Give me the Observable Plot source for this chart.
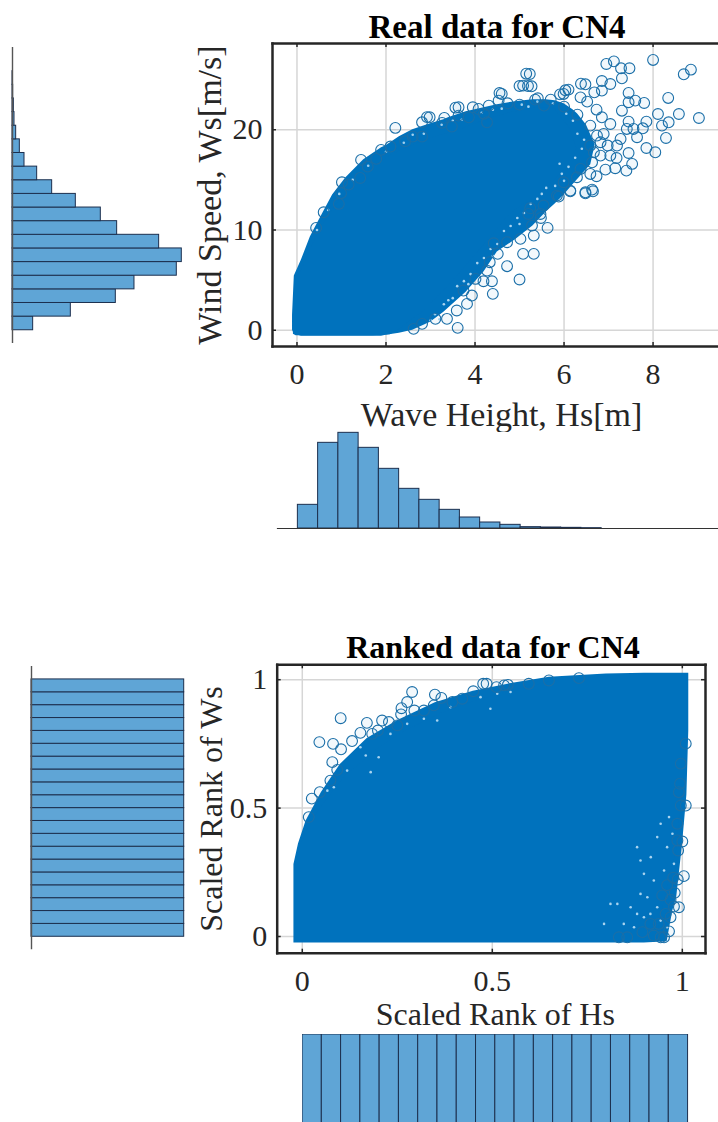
<!DOCTYPE html>
<html>
<head>
<meta charset="utf-8">
<script src="https://cdn.jsdelivr.net/npm/d3@7"></script>
<script src="https://cdn.jsdelivr.net/npm/@observablehq/plot@0.6"></script>
<style>
html,body{margin:0;padding:0;background:#fff;}
#page{position:relative;width:718px;height:1122px;overflow:hidden;background:#fff;font-family:"Liberation Serif",serif;}
#page>*{position:absolute;}
.title{font-weight:bold;color:#000;white-space:nowrap;line-height:1;text-align:center;}
</style>
</head>
<body>
<div id="page"></div>
<script>
// ---------- Real data panel ----------
const realTitle = "Real data for CN4";
const hsLabel = "Wave Height, Hs[m]";
const wsLabel = "Wind Speed, Ws[m/s]";
const realXTicks = [0, 2, 4, 6, 8];
const realYTicks = [0, 10, 20];
// dense body of the cloud, read as an envelope
const realBodyHs = [-0.08,-0.02,0.1,0.22,0.4,0.6,0.95,1.35,1.7,2.1,2.32,2.5,2.85,3.2,3.59,3.95,4.34,4.7,5.02,5.4,5.77,6.14,6.29];
const realBodyWsHigh = [2,5.2,5.9,7.1,9,10.6,13,14.76,16.2,17.42,17.9,18.2,18.9,19.4,19.9,20.5,21.1,21.6,21.9,22.2,22.2,20.1,18.1];
const realBodyWsLow = [-0.4,-0.55,-0.55,-0.55,-0.55,-0.55,-0.55,-0.55,-0.55,-0.45,0.14,0.8,1.9,3.5,5.3,7.2,9.2,11.2,12.4,13.2,14.9,16.5,18.1];
// looser fringe of the cloud, where circles overlap with small gaps
const realFringeHs = [-0.1,-0.06,0.1,0.3,0.5,0.8,1.1,1.5,1.9,2.0,2.3,2.6,2.8,3.0,3.3,3.4,3.8,4.2,4.5,4.9,5.3,5.6,5.8,6.0,6.2,6.3,6.5,6.6,6.7];
const realFringeWsHigh = [1.5,5.4,7,9.3,11,13.5,15.2,17,18.2,18.4,19.3,20,20.3,20.6,21,21.2,21.8,22.2,22.5,22.8,23,23,22.9,22.6,22,21.6,20.5,19.5,18.5];
const realFringeWsLow = [0,-0.4,-0.6,-0.6,-0.6,-0.6,-0.6,-0.6,-0.6,-0.5,-0.3,0,0.4,0.8,1.8,2.2,3.8,5.8,7.8,9,10.4,11.8,12.6,13.5,14.5,15,16,16.5,18.5];
// gaps between circles, seen as light specks inside the fringe
const realSpecks = [[3.1,1.6],[3.3,2.6],[3.5,3.2],[3.2,1.1],[3.6,4.4],[3.75,4.9],[3.9,5.6],[4.05,6.7],[4.2,7.2],[4.35,8.1],[4.5,8.6],[4.65,9.9],[4.8,10.4],[4.95,11.2],[5.1,11.7],[5.25,12.6],[5.4,13.1],[5.6,14.2],[5.8,14.4],[5.95,15.6],[6.1,16.3],[6.25,17.2],[6.4,18.1],[6.3,19.6],[6.2,20.9],[6.05,21.6],[5.75,22.6],[5.4,22.8],[5.05,22.5],[4.6,22.1],[4.15,21.7],[3.7,21.0],[3.25,20.5],[2.85,19.6],[2.4,18.7],[2.0,17.8],[1.6,16.4],[1.25,15.0],[0.95,13.6],[0.7,12.0],[0.45,10.0],[3.4,3.0],[3.0,1.0],[3.85,4.6],[4.4,7.4],[5.0,10.6],[5.5,13.6],[6.0,14.9],[5.9,16.6],[6.45,19.0],[2.6,19.5],[3.5,20.9],[4.4,22.0],[5.2,22.3]];
// individually visible circles
const realDots = [
[6.95,26.56],[7.12,26.82],[7.28,26.13],[7.47,26.13],[8.00,26.96],[8.85,25.99],[8.69,25.53],[7.30,25.13],[5.23,25.56],[5.08,24.40],[5.27,24.33],[6.48,24.53],[6.85,24.86],[7.04,24.56],[6.68,23.73],[6.85,23.90],[6.10,24.00],[5.99,23.57],[5.41,23.14],[6.37,23.23],[6.52,22.80],[7.45,23.67],[7.45,22.74],[7.80,22.67],[7.30,21.90],[8.34,23.17],[6.73,22.00],[8.11,21.57],[8.58,21.57],[9.03,21.17],[8.35,20.74],[8.20,20.41],[7.85,20.81],[7.77,20.14],[8.29,19.18],[7.45,20.81],[7.64,19.25],[7.85,18.18],[8.05,17.75],[7.53,16.59],[7.40,15.92],[7.15,16.16],[6.93,16.02],[7.18,17.18],[6.82,17.42],[6.63,16.75],[6.73,15.36],[6.59,15.59],[6.14,13.93],[6.63,14.03],[6.48,13.76],[6.89,19.58],[7.19,18.42],[7.45,17.68],[6.59,18.42],[6.85,21.24],[7.04,20.57],
[6.82,18.75],[6.98,18.42],[7.27,19.08],[7.41,20.08],[7.56,20.08],[7.60,22.9],[6.59,20.41],[6.74,19.41],[7.04,17.42],[6.67,17.75],[6.37,16.09],[6.29,15.26],[5.99,14.76],[5.84,13.43],[5.54,12.44],[5.24,12.17],[5.47,11.6],[5.20,11.6],
[3.61,0.24],[4.40,3.63],[5.00,5.06],[4.72,6.39],[5.08,7.62],[5.32,7.62],[4.51,7.62],[5.63,10.21],[5.48,11.2],[5.28,10.44],[5.02,9.11],[4.72,8.78],[4.42,8.68],[5.32,9.44],[4.38,4.89],[4.19,4.89],[4.01,5.12],[4.33,6.79],[4.27,5.95],[3.93,3.46],[3.82,2.63],[3.59,1.97],[3.37,1.14],[3.11,1.14],[2.81,0.64],[2.62,0.14],[3.74,3.96],[5.88,13.33],[6.14,13.86],[6.48,13.66],[6.65,13.86],
[2.21,20.18],[2.98,21.24],[3.31,21.18],[3.63,22.24],[3.63,21.41],[3.95,22.24],[4.31,22.40],[4.60,23.57],[4.53,22.90],[4.73,22.64],[2.81,20.74],[3.26,20.68],[3.48,20.31],[2.43,18.85],[2.60,19.31],[2.81,19.31],[2.10,18.32],[1.89,17.99],[1.44,16.99],[1.78,17.09],[1.59,16.32],[1.01,14.76],[1.16,14.53],[1.42,15.19],[0.99,13.67],[0.60,11.77],[0.43,10.21],[0.94,12.6],[4.08,22.07],[4.27,20.74],[3.86,21.24],
[5.15,25.59],[5.00,24.36],[5.19,24.36],[4.55,23.66],[5.91,23.53],[6.03,23.93],[6.38,24.59],[3.56,22.2],[2.92,21.26],[5.35,23.0],[5.7,23.0],[5.0,22.5],[4.2,21.6],[5.55,22.4],[6.0,22.3],[6.3,21.5]
];
// marginal histogram of Ws
const wsEdges = [0,1.36,2.72,4.08,5.44,6.8,8.16,9.52,10.88,12.24,13.6,14.96,16.32,17.68,19.04,20.4,21.76,23.12,24.48,25.84];
const wsCounts = [620,1750,3100,3660,4930,5080,4400,3140,2650,1900,1190,740,360,220,110,60,40,20,10];
// marginal histogram of Hs
const hsEdges = [0.02,0.475,0.93,1.385,1.84,2.295,2.75,3.205,3.66,4.115,4.57,5.025,5.48,5.935,6.39,6.845];
const hsCounts = [710,2570,2870,2420,1790,1190,860,560,330,180,110,40,30,20,10];

// ---------- Ranked data panel ----------
const rankTitle = "Ranked data for CN4";
const rankHsLabel = "Scaled Rank of Hs";
const rankWsLabel = "Scaled Rank of Ws";
const rankTicks = [0, 0.5, 1];
const rankBodyHs = [-0.017,-0.005,0.009,0.03,0.057,0.11,0.19,0.267,0.364,0.46,0.574,0.67,0.846,0.93,0.947,0.969,0.987,0.991,1.004,1.013];
const rankBodyWsHigh = [0.30,0.35,0.40,0.46,0.517,0.62,0.72,0.796,0.867,0.919,0.965,0.997,1.017,1.02,1.02,1.02,1.02,1.02,1.02,1.02];
const rankBodyWsLow = [-0.02,-0.022,-0.022,-0.022,-0.022,-0.022,-0.022,-0.022,-0.022,-0.022,-0.022,-0.022,-0.022,-0.02,0.1,0.244,0.348,0.44,0.6,0.8];
const rankFringeHs = [-0.022,-0.01,0.01,0.05,0.1,0.17,0.25,0.35,0.45,0.55,0.65,0.8,0.9,0.96,0.975,0.985,1.0,1.012,1.017];
const rankFringeWsHigh = [0.28,0.36,0.45,0.56,0.67,0.77,0.84,0.91,0.955,0.985,1.01,1.022,1.025,1.025,1.025,1.025,1.025,1.025,1.025];
const rankFringeWsLow = [-0.025,-0.025,-0.025,-0.025,-0.025,-0.025,-0.025,-0.025,-0.025,-0.025,-0.025,-0.025,-0.025,-0.02,0.1,0.15,0.35,0.55,0.8];
const rankSpecks = [[0.881,0.348],[0.890,0.296],[0.899,0.244],[0.917,0.309],[0.934,0.387],[0.943,0.439],[0.965,0.465],[0.960,0.348],[0.925,0.218],[0.890,0.166],[0.864,0.114],[0.829,0.127],[0.846,0.049],[0.873,0.036],[0.899,0.075],[0.916,0.088],[0.934,0.114],[0.943,0.062],[0.960,0.036],[0.908,0.153],[0.881,0.088],[0.811,0.127],[0.794,0.049],[0.978,0.283],[0.952,0.257],[0.974,0.400],
[0.066,0.568],[0.083,0.581],[0.118,0.646],[0.153,0.737],[0.167,0.705],[0.201,0.698],[0.180,0.640],[0.232,0.789],[0.276,0.828],[0.320,0.848],[0.355,0.841],[0.390,0.893],[0.469,0.932],[0.495,0.887],[0.513,0.945],[0.548,0.952]];
const rankDots = [
[0.101,0.850],[0.045,0.757],[0.081,0.750],[0.102,0.729],[0.170,0.832],[0.153,0.793],[0.131,0.761],[0.079,0.679],[0.092,0.649],[0.074,0.607],[0.046,0.562],[0.025,0.537],[0.017,0.465],[0.289,0.952],[0.276,0.913],[0.261,0.889],[0.260,0.865],[0.295,0.880],[0.349,0.942],[0.366,0.929],[0.346,0.900],[0.395,0.913],[0.421,0.926],[0.450,0.955],[0.485,0.984],[0.541,0.980],[0.511,0.971],[0.210,0.841],[0.228,0.835],[0.199,0.802],[0.250,0.822],[0.320,0.880],[0.184,0.789],
[0.476,0.984],[0.531,0.978],[0.596,0.984],[0.649,0.997],[0.728,1.006],
[1.009,0.510],[1.000,0.370],[0.989,0.335],[1.004,0.235],[0.988,0.222],[0.976,0.229],[0.991,0.114],[0.969,0.143],[0.952,-0.003],[0.925,0.004],[0.895,0.017],[0.855,-0.003],[0.833,-0.003],[0.969,0.075],[0.947,0.160],[0.987,0.439],[0.956,0.088],[0.938,0.049],[0.916,0.049],[0.991,0.562],[0.994,0.595],[0.978,0.117],[0.943,-0.003],[0.996,0.51],[0.987,0.374],[0.996,0.673],[1.009,0.751],[0.965,0.02],[0.98,0.17],[0.96,0.2]
];
const rankEdges = [0,0.05,0.1,0.15,0.2,0.25,0.3,0.35,0.4,0.45,0.5,0.55,0.6,0.65,0.7,0.75,0.8,0.85,0.9,0.95,1];
const rankCounts = [1,1,1,1,1,1,1,1,1,1,1,1,1,1,1,1,1,1,1,1];

// ---------- styling ----------
const BLUE = "#0072BD";
const BAR = "#5fa5d6";
const BAR_EDGE = "#1c2f4e";
const INK = "#262626";
const page = document.getElementById("page");
const place = (node, left, top) => { node.style.left = left + "px"; node.style.top = top + "px"; page.appendChild(node); };
const base = {fontFamily: '"Liberation Serif", serif', background: "transparent", overflow: "hidden"};
const pairs = (a) => a.map(([x, y]) => ({x, y}));
const TICK_PX = 4;

function addTitle(text, cx, top, size) {
  const d = document.createElement("div");
  d.className = "title";
  d.textContent = text;
  d.style.fontSize = size + "px";
  d.style.width = "420px";
  place(d, cx - 210, top);
}

function scatter({left, top, width, height, margin, xDomain, yDomain, xTicks, yTicks, body, fringe, specks, dots, xLabel, yLabel, xLabelDx, xLabelDy, yLabelDx, labelSize, right}) {
  const table = body.hs.map((hs, i) => ({hs, hi: body.hi[i], lo: body.lo[i]}));
  const loose = fringe.hs.map((hs, i) => ({hs, hi: fringe.hi[i], lo: fringe.lo[i]}));
  const innerW = width - margin.marginLeft - margin.marginRight;
  const innerH = height - margin.marginTop - margin.marginBottom;
  const kx = TICK_PX * (xDomain[1] - xDomain[0]) / innerW;
  const ky = TICK_PX * (yDomain[1] - yDomain[0]) / innerH;
  const tickStyle = {stroke: INK, strokeWidth: 1.5};
  const sides = right ? ["top", "bottom", "left", "right"] : ["top", "bottom", "left"];
  const node = Plot.plot({
    width, height, ...margin,
    style: base,
    x: {domain: xDomain},
    y: {domain: yDomain},
    marks: [
      Plot.gridX(xTicks, {stroke: "#d6d6d6", strokeOpacity: 1, strokeWidth: 1.5}),
      Plot.gridY(yTicks, {stroke: "#d6d6d6", strokeOpacity: 1, strokeWidth: 1.5}),
      Plot.areaY(loose, {x: "hs", y1: "lo", y2: "hi", fill: BLUE}),
      Plot.areaY(table, {x: "hs", y1: "lo", y2: "hi", fill: BLUE}),
      Plot.dot(pairs(specks), {x: "x", y: "y", r: 1.3, fill: "#a9d4f0", stroke: "none"}),
      Plot.dot(pairs(dots), {x: "x", y: "y", r: 5.4, stroke: "#1b6fa8", strokeWidth: 1.1, fill: BLUE, fillOpacity: 0.05}),
      ...sides.map((anchor) => Plot.frame({anchor, stroke: INK, strokeWidth: 2.5})),
      Plot.ruleX(xTicks, {y1: yDomain[0], y2: yDomain[0] + ky, ...tickStyle}),
      Plot.ruleX(xTicks, {y1: yDomain[1] - ky, y2: yDomain[1], ...tickStyle}),
      Plot.ruleY(yTicks, {x1: xDomain[0], x2: xDomain[0] + kx, ...tickStyle}),
      right ? Plot.ruleY(yTicks, {x1: xDomain[1] - kx, x2: xDomain[1], ...tickStyle}) : null,
      Plot.axisX(xTicks, {anchor: "bottom", tickSize: 0, tickPadding: 16, fontSize: 30, fill: INK, label: null, tickFormat: String}),
      Plot.axisY(yTicks, {anchor: "left", tickSize: 0, tickPadding: 10, fontSize: 30, fill: INK, label: null, tickFormat: String}),
      Plot.text([xLabel], {frameAnchor: "bottom", textAnchor: "middle", dx: xLabelDx, dy: xLabelDy, fontSize: labelSize, fill: INK}),
      Plot.text([yLabel], {frameAnchor: "left", textAnchor: "middle", rotate: -90, dx: yLabelDx, fontSize: labelSize, fill: INK})
    ]
  });
  place(node, left, top);
}

function histLeft({left, top, width, height, marginLeft, marginRight, yDomain, xMax, edges, counts, lineY}) {
  const bins = counts.map((c, i) => ({c, y1: edges[i], y2: edges[i + 1]}));
  const node = Plot.plot({
    width, height, marginLeft, marginRight, marginTop: 0, marginBottom: 0,
    style: base,
    x: {domain: [0, xMax], axis: null},
    y: {domain: yDomain, axis: null},
    marks: [
      Plot.rectX(bins, {x1: 0, x2: "c", y1: "y1", y2: "y2", fill: BAR, stroke: BAR_EDGE, strokeWidth: 1, inset: 0}),
      Plot.ruleX([0], {y1: lineY[0], y2: lineY[1], stroke: "#555", strokeWidth: 1.4})
    ]
  });
  place(node, left, top);
}

function histBottom({left, top, width, height, marginLeft, marginBottom, xDomain, yDomain, edges, counts, baselineFrom}) {
  const bins = counts.map((c, i) => ({c, x1: edges[i], x2: edges[i + 1]}));
  const node = Plot.plot({
    width, height, marginLeft, marginRight: 0, marginTop: 0, marginBottom,
    style: base,
    x: {domain: xDomain, axis: null},
    y: {domain: yDomain, axis: null},
    marks: [
      Plot.rectY(bins, {x1: "x1", x2: "x2", y1: 0, y2: "c", fill: BAR, stroke: BAR_EDGE, strokeWidth: 1, inset: 0}),
      baselineFrom != null ? Plot.ruleY([0], {x1: baselineFrom, x2: xDomain[1], stroke: "#333", strokeWidth: 1.2}) : null
    ]
  });
  place(node, left, top);
}

// ---------- real data ----------
const realX = [-0.55, 9.47];
const realY = [-1.62, 28.6];
addTitle(realTitle, 497, 11, 33);
scatter({
  left: 190, top: 40, width: 528, height: 392,
  margin: {marginLeft: 82, marginRight: 0, marginTop: 3, marginBottom: 86},
  xDomain: realX, yDomain: realY, xTicks: realXTicks, yTicks: realYTicks,
  body: {hs: realBodyHs, hi: realBodyWsHigh, lo: realBodyWsLow},
  fringe: {hs: realFringeHs, hi: realFringeWsHigh, lo: realFringeWsLow},
  specks: realSpecks, dots: realDots,
  xLabel: hsLabel, yLabel: wsLabel, xLabelDx: 6, xLabelDy: 79, yLabelDx: -62, labelSize: 34, right: false
});
histLeft({
  left: 0, top: 43, width: 190, height: 303, marginLeft: 12, marginRight: 8.7,
  yDomain: realY, xMax: 5080, edges: wsEdges, counts: wsCounts, lineY: [-1.33, 28.2]
});
histBottom({
  left: 260, top: 431, width: 458, height: 98, marginLeft: 12, marginBottom: 1,
  xDomain: realX, yDomain: [0, 2910], edges: hsEdges, counts: hsCounts, baselineFrom: -0.44
});

// ---------- ranked data ----------
const rankX = [-0.066, 1.061];
const rankY = [-0.065, 1.058];
addTitle(rankTitle, 493, 631, 32);
scatter({
  left: 190, top: 660, width: 520, height: 372,
  margin: {marginLeft: 86.7, marginRight: 5, marginTop: 4.3, marginBottom: 79.3},
  xDomain: rankX, yDomain: rankY, xTicks: rankTicks, yTicks: rankTicks,
  body: {hs: rankBodyHs, hi: rankBodyWsHigh, lo: rankBodyWsLow},
  fringe: {hs: rankFringeHs, hi: rankFringeWsHigh, lo: rankFringeWsLow},
  specks: rankSpecks, dots: rankDots,
  xLabel: rankHsLabel, yLabel: rankWsLabel, xLabelDx: 4, xLabelDy: 72, yLabelDx: -65, labelSize: 32, right: true
});
histLeft({
  left: 0, top: 664, width: 190, height: 289, marginLeft: 31, marginRight: 6.3,
  yDomain: rankY, xMax: 1, edges: rankEdges, counts: rankCounts, lineY: [-0.05, 1.05]
});
histBottom({
  left: 301.7, top: 1034, width: 416.3, height: 88, marginLeft: 0, marginBottom: 0,
  xDomain: [0, 416.3 / 385.6], yDomain: [0.08, 1], edges: rankEdges, counts: rankCounts
});
</script>
</body>
</html>
